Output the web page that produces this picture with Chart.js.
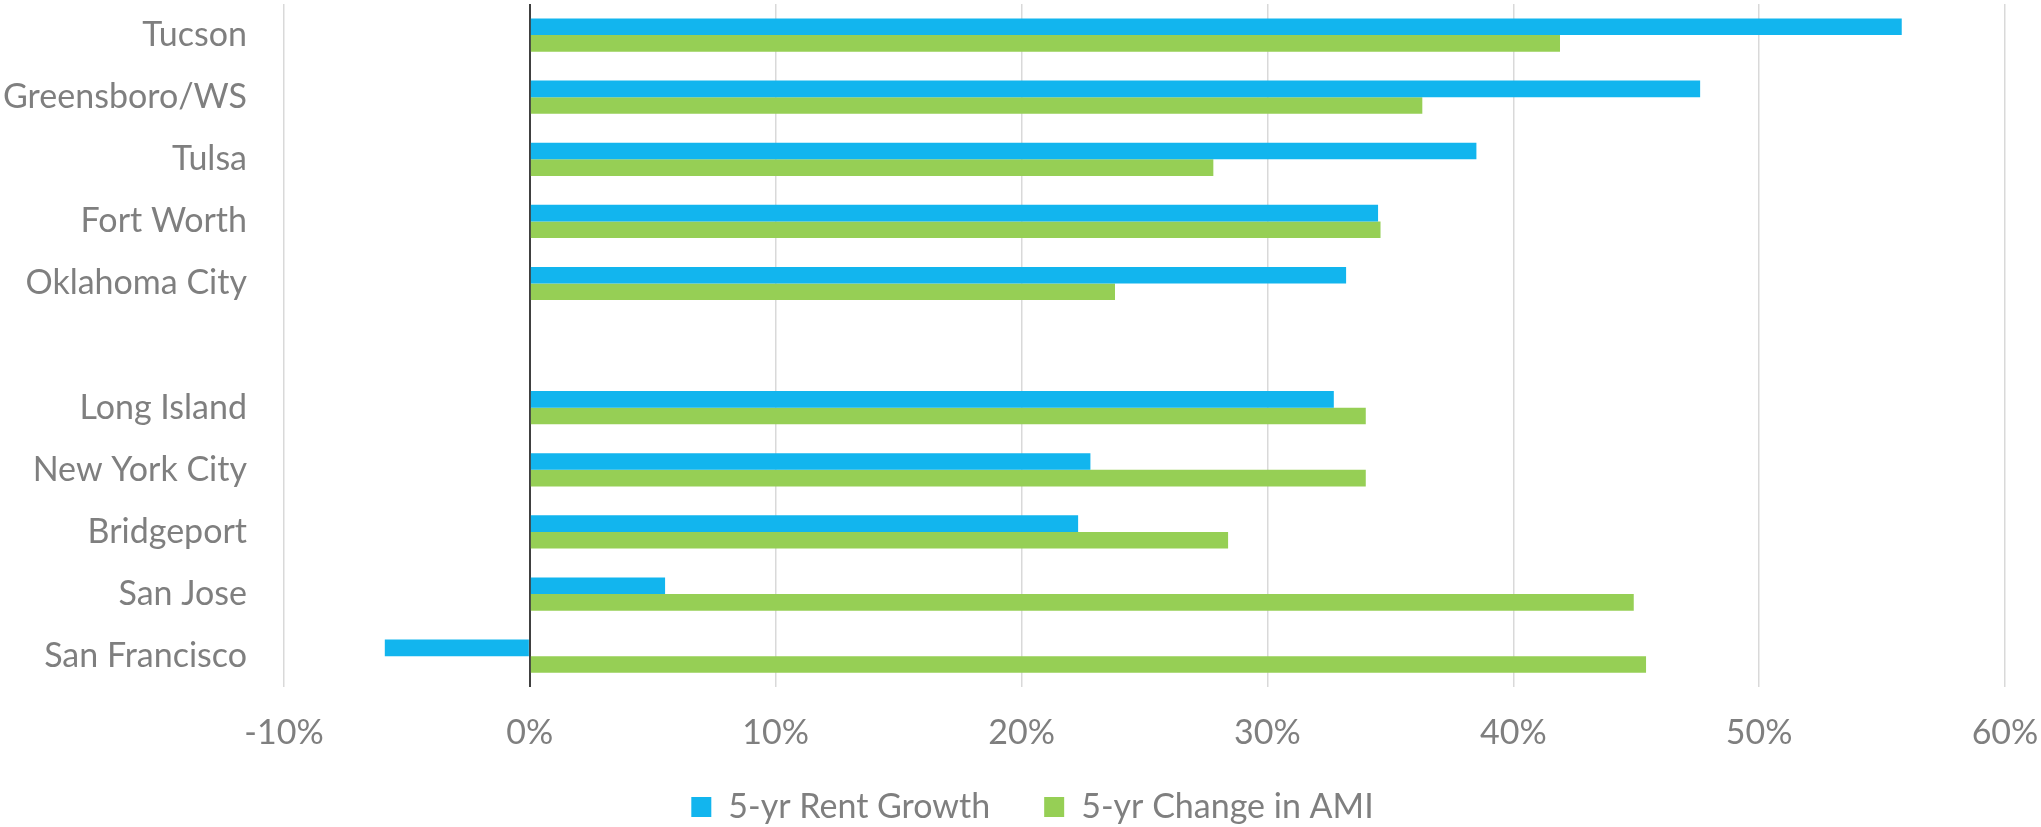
<!DOCTYPE html>
<html>
<head>
<meta charset="utf-8">
<script src="https://cdn.jsdelivr.net/npm/chart.js@4.4.1/dist/chart.umd.min.js"></script>
<style>
  html, body { margin: 0; padding: 0; background: #ffffff; }
  #wrap { width: 2041px; height: 827px; position: relative; }
</style>
</head>
<body>
<div id="wrap"><canvas id="chartLoyers"></canvas></div>
<script>
// blank entry keeps the gap between the two city groups
const villes = ["Tucson", "Greensboro/WS", "Tulsa", "Fort Worth", "Oklahoma City", "",
  "Long Island", "New York City", "Bridgeport", "San Jose", "San Francisco"];
const croissanceLoyer = [55.8, 47.6, 38.5, 34.5, 33.2, null, 32.7, 22.8, 22.3, 5.5, -5.9];
const variationAMI = [41.9, 36.3, 27.8, 34.6, 23.8, null, 34.0, 34.0, 28.4, 44.9, 45.4];
const axeMin = -10;
const axeMax = 60;
const axePas = 10;

const GRIS = "#7f7f7f";
const POLICE = { family: "Lato", size: 34 };

Chart.defaults.font.family = "Lato";
Chart.defaults.color = GRIS;

// legend padding also spaces the items, so move the box back up after layout
const placerLegende = {
  id: "placerLegende",
  afterLayout(chart) {
    const leg = chart.legend;
    if (!leg) return;
    const h = leg.bottom - leg.top;
    leg.top = 736;
    leg.bottom = 736 + h;
    leg.left += 12;
    leg.right += 12;
  },
};

new Chart(document.getElementById("chartLoyers"), {
  type: "bar",
  data: {
    labels: villes,
    datasets: [
      {
        label: "5-yr Rent Growth",
        data: croissanceLoyer,
        backgroundColor: "#12b5ee",
        barPercentage: 1,
        categoryPercentage: 0.535,
      },
      {
        label: "5-yr Change in AMI",
        data: variationAMI,
        backgroundColor: "#96cf55",
        barPercentage: 1,
        categoryPercentage: 0.535,
      },
    ],
  },
  options: {
    indexAxis: "y",
    responsive: true,
    maintainAspectRatio: false,
    animation: false,
    layout: { padding: { top: 4, right: 0, left: 0, bottom: -49 } },
    scales: {
      x: {
        min: axeMin,
        max: axeMax,
        border: { display: false },
        grid: {
          drawTicks: false,
          color: (ctx) => (ctx.tick && ctx.tick.value === 0 ? "#404040" : "#d9d9d9"),
          lineWidth: (ctx) => (ctx.tick && ctx.tick.value === 0 ? 2 : 1.5),
        },
        ticks: {
          stepSize: axePas,
          padding: 25,
          color: GRIS,
          font: POLICE,
          callback: (v) => v + "%",
        },
        afterFit: (scale) => {
          scale.paddingRight = 36;
        },
      },
      y: {
        border: { display: false },
        grid: { display: false, drawTicks: false },
        ticks: { padding: 37, color: GRIS, font: POLICE, autoSkip: false },
        afterFit: (scale) => {
          scale.width = 284;
          scale.paddingTop = 0;
          scale.paddingBottom = 0;
        },
      },
    },
    plugins: {
      legend: {
        position: "bottom",
        labels: {
          color: GRIS,
          font: POLICE,
          boxWidth: 20,
          boxHeight: 20,
          padding: 54,
        },
      },
      tooltip: { enabled: false },
    },
  },
  plugins: [placerLegende],
});
</script>
</body>
</html>
